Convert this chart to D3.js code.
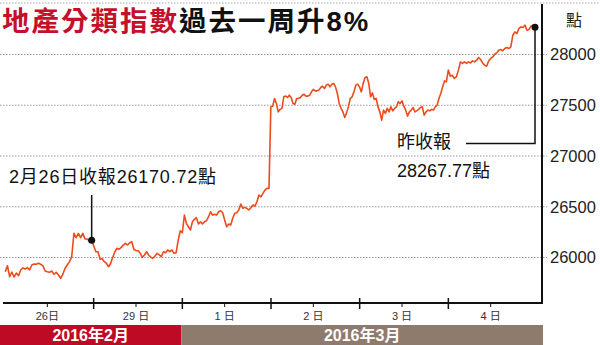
<!DOCTYPE html>
<html>
<head>
<meta charset="utf-8">
<style>
  body { margin: 0; background: #fff; }
  svg text { font-family: "Liberation Sans", Arial, "Noto Sans CJK TC", sans-serif; }
</style>
</head>
<body>
<div id="chart"></div>
<script src="https://d3js.org/d3.v7.min.js"></script>
<script>
var w = 600, h = 345;

// day labels on the x axis, month bands below
var dayLabels = ["26日", "29 日", "1 日", "2 日", "3 日", "4 日"];
var months = ["2016年2月", "2016年3月"];
var monthDays = [2, 4];
var yTicks = [26000, 26500, 27000, 27500, 28000];

// intraday readings, one array per trading day
var feb26 = [25860, 25919, 25811, 25857, 25808, 25847, 25821, 25877, 25897, 25887, 25900, 25877, 25926, 25936, 25933, 25943, 25933, 25919, 25867, 25860, 25854, 25867, 25835, 25854, 25828, 25795, 25835, 25894, 25926, 25959, 26008, 26238, 26195, 26238, 26195, 26238, 26182, 26182, 26162, 26170.72];
var feb29 = [26113, 26057, 26057, 25982, 25988, 25959, 25943, 25909, 25943, 26002, 26057, 26091, 26081, 26100, 26123, 26140, 26123, 26146, 26156, 26081, 26067, 26067, 26041, 26002, 26025, 26057, 26025, 26002, 25992, 26015, 26041, 26025, 26008, 26057, 26047, 26074, 26057, 26074, 26041, 26047, 26172, 26264];
var mar1 = [26244, 26418, 26337, 26303, 26271, 26352, 26376, 26392, 26330, 26352, 26330, 26352, 26362, 26402, 26451, 26418, 26425, 26418, 26451, 26461, 26441, 26369, 26303, 26330, 26320, 26386, 26435, 26441, 26468, 26527, 26484, 26494, 26484, 26468, 26490, 26517, 26507, 26549, 26615, 26598, 26632, 26664, 26681, 26681];
var mar2 = [27484, 27491, 27567, 27518, 27435, 27459, 27469, 27583, 27590, 27577, 27599, 27577, 27518, 27511, 27567, 27567, 27577, 27599, 27609, 27590, 27590, 27599, 27632, 27656, 27642, 27642, 27649, 27675, 27688, 27665, 27698, 27708, 27681, 27708, 27715, 27681, 27616, 27518, 27469, 27435, 27380, 27425, 27484, 27567, 27583, 27632, 27698, 27708];
var mar3 = [27681, 27632, 27715, 27774, 27780, 27715, 27583, 27622, 27557, 27567, 27484, 27435, 27353, 27452, 27419, 27469, 27435, 27484, 27445, 27469, 27484, 27534, 27518, 27543, 27491, 27452, 27393, 27435, 27452, 27478, 27435, 27445, 27459, 27478, 27484, 27403, 27435, 27452, 27445, 27459, 27452, 27484, 27501, 27567, 27616, 27681, 27740, 27730];
var mar4 = [27846, 27787, 27796, 27764, 27780, 27846, 27927, 27912, 27927, 27912, 27927, 27917, 27937, 27927, 27944, 27971, 27951, 27917, 27895, 27885, 27937, 27961, 27976, 28003, 28016, 28042, 28049, 28036, 28059, 28069, 28059, 28075, 28190, 28223, 28207, 28256, 28272, 28266, 28289, 28239, 28246, 28279, 28289, 28267.77];

var sessions = [feb26, feb29, mar1, mar2, mar3, mar4];

var points = [];
sessions.forEach(function (vals, d) {
  vals.forEach(function (v, i) {
    points.push({ t: d + (i + 1) / vals.length, v: v });
  });
});
var feb26Close = points[feb26.length - 1];
var lastClose = points[points.length - 1];

var x = d3.scaleLinear().domain([0, 6]).range([3, 535]);
var y = d3.scaleLinear().domain([26000, 28000]).range([257.5, 54.5]);

var svg = d3.select("#chart").append("svg").attr("width", w).attr("height", h);

// dotted rule above the title
svg.append("line")
  .attr("x1", 0).attr("x2", w).attr("y1", 3).attr("y2", 3)
  .attr("stroke", "#aaa").attr("stroke-dasharray", "1.5,1.5");

// title
var title = svg.append("text")
  .attr("x", 2).attr("y", 31)
  .attr("font-size", 27.5).attr("font-weight", "bold")
  .attr("letter-spacing", 2);
title.append("tspan").attr("fill", "#c3102b").text("地產分類指數");
title.append("tspan").attr("fill", "#111").text("過去一周升8%");

// grid lines
svg.selectAll("line.grid").data(yTicks).enter().append("line")
  .attr("class", "grid")
  .attr("x1", 0).attr("x2", 547)
  .attr("y1", function (d) { return y(d); })
  .attr("y2", function (d) { return y(d); })
  .attr("stroke", "#999").attr("stroke-width", 1)
  .attr("stroke-dasharray", "1.5,1.5");

// y axis labels on the right
var yAxis = svg.append("g")
  .attr("transform", "translate(546,0)")
  .call(d3.axisRight(y).tickValues(yTicks).tickSize(0).tickPadding(4).tickFormat(d3.format("d")));
yAxis.select(".domain").remove();
yAxis.selectAll("text")
  .attr("font-size", 16.5).attr("fill", "#222")
  .style("font-family", '"Liberation Sans", Arial, sans-serif');

svg.append("text")
  .attr("x", 574).attr("y", 26)
  .attr("text-anchor", "middle")
  .attr("font-size", 16).attr("fill", "#222")
  .text("點");

// frame: right vertical and bottom axis
svg.append("line")
  .attr("x1", 542).attr("x2", 542).attr("y1", 4).attr("y2", 304)
  .attr("stroke", "#111").attr("stroke-width", 2);
svg.append("line")
  .attr("x1", 3).attr("x2", 543).attr("y1", 303).attr("y2", 303)
  .attr("stroke", "#111").attr("stroke-width", 2);

// day separators and label ticks
svg.selectAll("line.sep").data(d3.range(1, 6)).enter().append("line")
  .attr("class", "sep")
  .attr("x1", function (d) { return x(d) + 2; })
  .attr("x2", function (d) { return x(d) + 2; })
  .attr("y1", 298).attr("y2", 309)
  .attr("stroke", "#111").attr("stroke-width", 1.5);
svg.selectAll("line.dtick").data(dayLabels).enter().append("line")
  .attr("class", "dtick")
  .attr("x1", function (d, i) { return x(i + 0.5); })
  .attr("x2", function (d, i) { return x(i + 0.5); })
  .attr("y1", 303).attr("y2", 307)
  .attr("stroke", "#111").attr("stroke-width", 1);
svg.selectAll("text.day").data(dayLabels).enter().append("text")
  .attr("class", "day")
  .attr("x", function (d, i) { return x(i + 0.5); })
  .attr("y", 320)
  .attr("text-anchor", "middle")
  .attr("font-size", 11).attr("fill", "#333")
  .text(function (d) { return d; });

// month bands
var bandColors = ["#bf0a26", "#8e7b6d"];
var start = 0;
months.forEach(function (m, i) {
  var x0 = i === 0 ? 0 : x(start) + 1;
  var x1 = i === months.length - 1 ? 543 : x(start + monthDays[i]) + 1;
  svg.append("rect")
    .attr("x", x0).attr("y", 325).attr("width", x1 - x0).attr("height", h - 325)
    .attr("fill", bandColors[i]);
  svg.append("text")
    .attr("x", (x0 + x1) / 2).attr("y", 340.5)
    .attr("text-anchor", "middle")
    .attr("font-size", 16).attr("font-weight", "bold").attr("fill", "#fff")
    .text(m);
  start += monthDays[i];
});

// index line
var line = d3.line()
  .x(function (d) { return x(d.t); })
  .y(function (d) { return y(d.v); });
svg.append("path")
  .datum(points)
  .attr("d", line)
  .attr("fill", "none")
  .attr("stroke", "#ee4a1c")
  .attr("stroke-width", 1.6)
  .attr("stroke-linejoin", "round");

// callouts
svg.append("line")
  .attr("x1", x(feb26Close.t)).attr("x2", x(feb26Close.t))
  .attr("y1", y(feb26Close.v)).attr("y2", 195)
  .attr("stroke", "#111").attr("stroke-width", 1.5);
svg.append("path")
  .attr("d", "M" + x(lastClose.t) + "," + y(lastClose.v) + "V143.5H466")
  .attr("fill", "none").attr("stroke", "#111").attr("stroke-width", 1.5);

svg.selectAll("circle.close").data([feb26Close, lastClose]).enter().append("circle")
  .attr("class", "close")
  .attr("cx", function (d) { return x(d.t); })
  .attr("cy", function (d) { return y(d.v); })
  .attr("r", 3.5)
  .attr("fill", "#111");

svg.append("text")
  .attr("x", 9).attr("y", 183)
  .attr("font-size", 18).attr("fill", "#111")
  .attr("letter-spacing", 0.8)
  .text("2月26日收報" + d3.format(".2f")(feb26Close.v) + "點");
svg.append("text")
  .attr("x", 397).attr("y", 148)
  .attr("font-size", 18).attr("fill", "#111")
  .text("昨收報");
svg.append("text")
  .attr("x", 397).attr("y", 177)
  .attr("font-size", 18).attr("fill", "#111")
  .text(d3.format(".2f")(lastClose.v) + "點");
</script>
</body>
</html>
